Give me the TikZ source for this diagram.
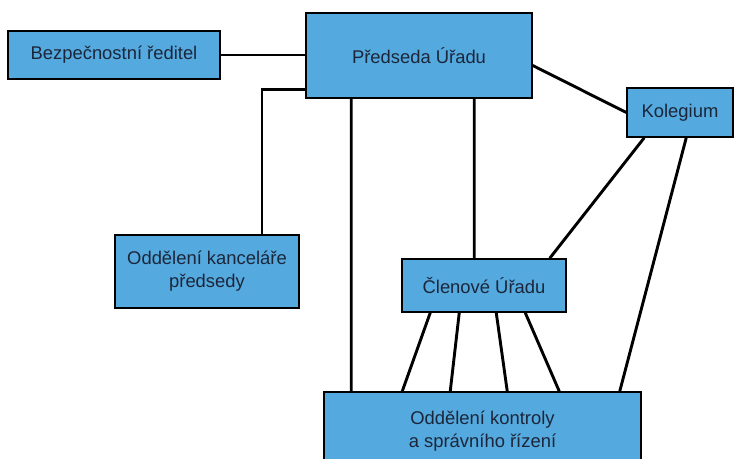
\documentclass[tikz,border=0pt]{standalone}
\usepackage{fontspec}
\setmainfont{Liberation Sans}
\usepackage{tikz}
\usetikzlibrary{positioning}
\definecolor{mblue}{RGB}{84, 169, 222}
\definecolor{mtext}{RGB}{28, 38, 58}
\tikzset{office/.style = {draw=black, line width=1.5bp, fill=mblue,
                          text=mtext, align=center, inner sep=0pt,
                          font=\fontsize{18.4bp}{23bp}\selectfont},
         link/.style = {line width=2.9bp}}

\begin{document}
\begin{tikzpicture}[x=1bp, y=-1bp]
    \clip (0, 0) rectangle (740, 459);
    \fill [white] (0, 0) rectangle (740, 459);

    \node [office, minimum width=212bp, minimum height=48bp] (bezp) at (114, 55) {Bezpečnostní ředitel};
    \node [office, minimum width=226bp, minimum height=85bp] (pred) at (419, 55.5) {Předseda Úřadu};
    \node [office, minimum width=106bp, minimum height=49bp] (koleg) at (680, 112.5) {Kolegium};
    \node [office, minimum width=184bp, minimum height=73bp] (kanc) at (207, 271.5) {Oddělení kanceláře\\předsedy};
    \node [office, minimum width=164bp, minimum height=53bp] (clen) at (484, 285.5) {Členové Úřadu};
    \node [office, minimum width=317bp, minimum height=78bp] (kontr) at (482.5, 431) {Oddělení kontroly\\a správního řízení};

    \draw [link] (bezp.east) -- (pred.west |- bezp.east);
    \draw [link] ([yshift=9bp]pred.south west) -| ([xshift=55bp]kanc.north);
    \draw [link] ([xshift=46bp]pred.south west) -- ([xshift=28bp]kontr.north west);
    \draw [link] ([xshift=169bp]pred.south west) -- ([xshift=73bp]clen.north west);
    \draw [link] ([yshift=-10bp]pred.east) -- (koleg.west);

    \draw [link] ([xshift=18bp]koleg.south west) -- ([xshift=-17bp]clen.north east);
    \draw [link] ([xshift=60bp]koleg.south west) -- ([xshift=-22bp]kontr.north east);

    \foreach \a/\b in {29/79, 58/127, 95/184, 124/236} {
      \draw [link] ([xshift=\a bp]clen.south west) -- ([xshift=\b bp]kontr.north west);
    }
\end{tikzpicture}
\end{document}
